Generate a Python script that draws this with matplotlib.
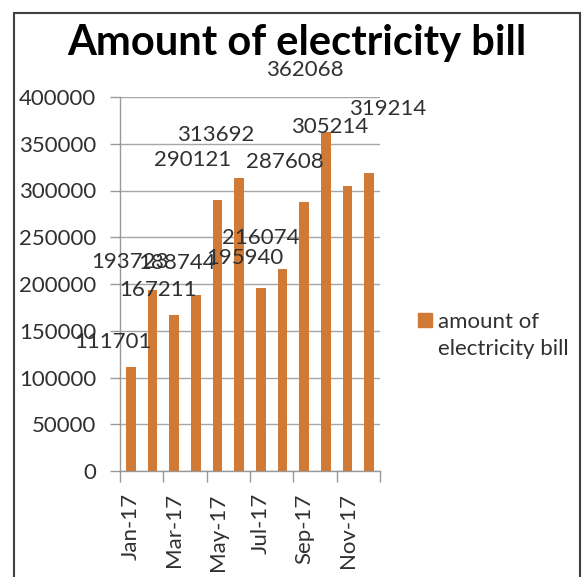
import matplotlib
matplotlib.use("Agg")
import matplotlib.pyplot as plt
from matplotlib.patches import Rectangle
from matplotlib.ticker import FixedLocator, NullFormatter

months = ["Jan-17", "Feb-17", "Mar-17", "Apr-17", "May-17", "Jun-17",
          "Jul-17", "Aug-17", "Sep-17", "Oct-17", "Nov-17", "Dec-17"]
amounts = [111701, 193723, 167211, 188744, 290121, 313692,
           195940, 216074, 287608, 362068, 305214, 319214]
y_ticks = [0, 50000, 100000, 150000, 200000, 250000, 300000, 350000, 400000]
series_name = "amount of\nelectricity bill"
title = "Amount of electricity bill"

# label offsets (pixels) as placed in the original chart
label_dx = [-18, -23, -16, -19, -25, -23, -16, -22, -19, -21, -18, 18]
label_dy = [25, 28, 25, 32, 40, 43, 30, 31, 40, 62, 59, 64]

bar_color = "#D07A35"
text_color = "#303030"
font = "Lato"
fs = 16

fig = plt.figure(figsize=(5.82, 5.77), dpi=100)
ax = fig.add_axes([120/582, 106/577, 260/582, 374/577])

x = list(range(len(months)))
ax.bar(x, amounts, width=0.46, color=bar_color, zorder=3)

ax.set_xlim(-0.5, len(months) - 0.5)
ax.set_ylim(0, 400000)
ax.set_yticks(y_ticks)
ax.set_yticklabels([str(v) for v in y_ticks], fontfamily=font, fontsize=fs, color=text_color)
ax.tick_params(axis="y", length=7, pad=10, color="#999999", width=1)

ax.set_xticks(x[::2])
ax.set_xticklabels(months[::2], rotation=90, fontfamily=font, fontsize=fs, color=text_color)
ax.tick_params(axis="x", which="major", length=0, pad=16)
ax.xaxis.set_minor_locator(FixedLocator([i - 0.5 for i in range(0, len(months) + 1, 2)]))
ax.xaxis.set_minor_formatter(NullFormatter())
ax.tick_params(axis="x", which="minor", length=8, color="#999999", width=1)

ax.grid(axis="y", color="#A6A6A6", linewidth=1, zorder=0)
for s in ["top", "right"]:
    ax.spines[s].set_visible(False)
for s in ["left", "bottom"]:
    ax.spines[s].set_color("#999999")
    ax.spines[s].set_linewidth(1)

for xi, v, dx, dy in zip(x, amounts, label_dx, label_dy):
    ax.annotate(str(v), (xi, v), xytext=(dx, dy), textcoords="offset pixels",
                ha="center", va="center", fontfamily=font, fontsize=fs,
                color=text_color, zorder=5, annotation_clip=False)

fig.text(297/582, 1 - 43/577, title, ha="center", va="center",
         fontfamily=font, fontweight="bold", fontsize=30, color="black")

# legend
fig.patches.append(Rectangle((418/582, 1 - 327/577), 14/582, 14/577,
                             transform=fig.transFigure, color=bar_color))
fig.text(438/582, 1 - 312/577, series_name, ha="left", va="top",
         fontfamily=font, fontsize=fs, color=text_color, linespacing=1.45,
         transform=fig.transFigure)

# chart frame
fig.patches.append(Rectangle((14/582, -0.02), 566/582, 1.02 - 13/577,
                             transform=fig.transFigure, fill=False,
                             edgecolor="#404040", linewidth=1.5))

fig.savefig("out.png", dpi=100)
